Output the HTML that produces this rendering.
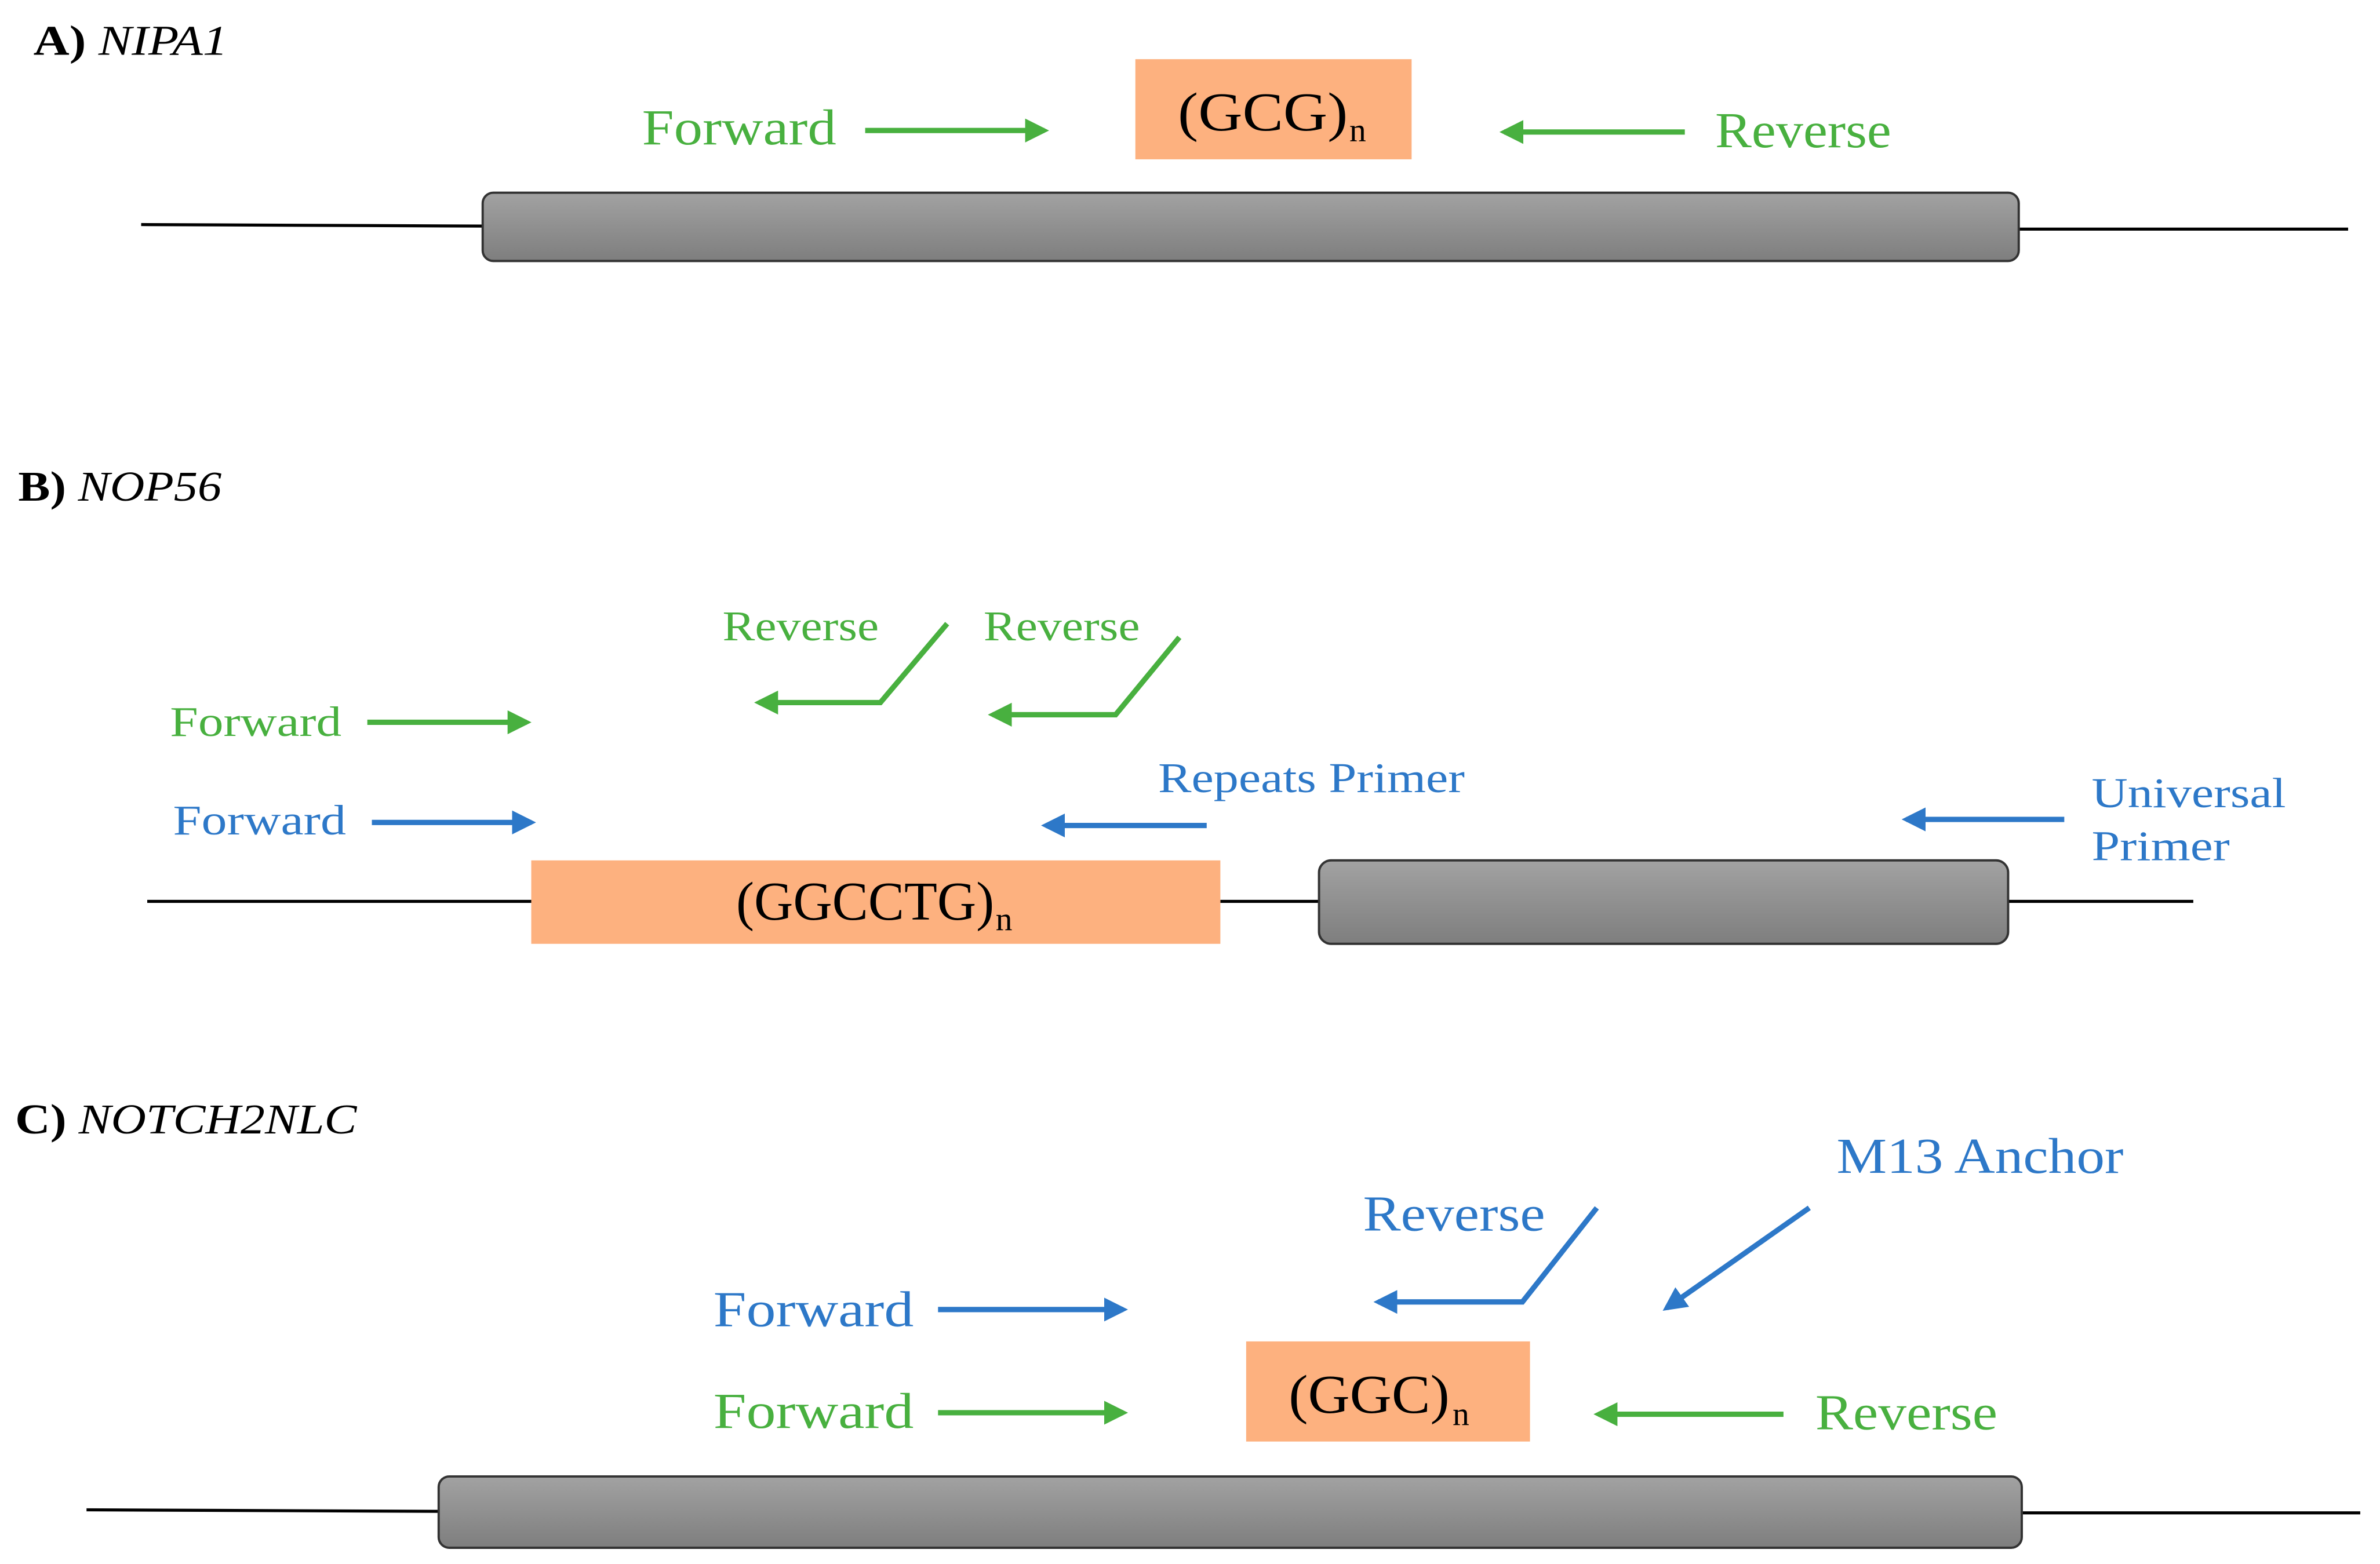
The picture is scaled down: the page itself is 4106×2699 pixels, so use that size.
<!DOCTYPE html>
<html><head><meta charset="utf-8"><style>html,body{margin:0;padding:0;background:#fff}svg{display:block}</style></head>
<body>
<svg width="4106" height="2699" viewBox="0 0 1568 1030.7" xmlns="http://www.w3.org/2000/svg" font-family="'Liberation Serif', serif">
<defs>
<linearGradient id="g" x1="0" y1="0" x2="0" y2="1"><stop offset="0" stop-color="#a2a2a2"/><stop offset="1" stop-color="#7e7e7e"/></linearGradient>
<marker id="ag" viewBox="0 0 10 10" refX="8" refY="5" markerWidth="4.5" markerHeight="4.5" orient="auto" markerUnits="strokeWidth"><path d="M0,0 L10,5 L0,10 z" fill="#48b03f"/></marker>
<marker id="ab" viewBox="0 0 10 10" refX="8" refY="5" markerWidth="4.5" markerHeight="4.5" orient="auto" markerUnits="strokeWidth"><path d="M0,0 L10,5 L0,10 z" fill="#2d78c8"/></marker>
</defs>
<g stroke="#000" stroke-width="2"><line x1="93" y1="148" x2="318" y2="149"/><line x1="1330" y1="151" x2="1547" y2="151"/>
<line x1="97" y1="594" x2="350" y2="594"/><line x1="804" y1="594" x2="869" y2="594"/><line x1="1323" y1="594" x2="1445" y2="594"/>
<line x1="57" y1="995" x2="289" y2="996"/><line x1="1332" y1="997" x2="1555" y2="997"/></g>
<g fill="url(#g)" stroke="#333" stroke-width="1.5">
<rect x="318" y="127" width="1012" height="45" rx="7"/>
<rect x="869" y="567" width="454" height="55" rx="8"/>
<rect x="289" y="973" width="1043" height="47" rx="7"/></g>
<g fill="#fdb17f"><rect x="748" y="39" width="182" height="66"/><rect x="350" y="567" width="454" height="55"/><rect x="821" y="884" width="187" height="66"/></g>
<g font-size="28" fill="#000">
<text x="22" y="36" textLength="128" lengthAdjust="spacingAndGlyphs"><tspan font-weight="bold">A)</tspan> <tspan font-style="italic">NIPA1</tspan></text>
<text x="12" y="330" textLength="134" lengthAdjust="spacingAndGlyphs"><tspan font-weight="bold">B)</tspan> <tspan font-style="italic">NOP56</tspan></text>
<text x="10" y="747" textLength="225" lengthAdjust="spacingAndGlyphs"><tspan font-weight="bold">C)</tspan> <tspan font-style="italic">NOTCH2NLC</tspan></text></g>
<g font-size="36" fill="#000">
<text x="776" y="86" textLength="112" lengthAdjust="spacingAndGlyphs">(GCG)</text><text x="889" y="93" font-size="22">n</text>
<text x="485" y="606" textLength="170" lengthAdjust="spacingAndGlyphs">(GGCCTG)</text><text x="656" y="613" font-size="22">n</text>
<text x="849" y="931" textLength="106" lengthAdjust="spacingAndGlyphs">(GGC)</text><text x="957" y="939" font-size="22">n</text></g>
<g fill="#48b03f" font-size="33">
<text x="423" y="95" textLength="128" lengthAdjust="spacingAndGlyphs">Forward</text>
<text x="1130" y="97" textLength="116" lengthAdjust="spacingAndGlyphs">Reverse</text>
<text x="470" y="941" textLength="132" lengthAdjust="spacingAndGlyphs">Forward</text>
<text x="1196" y="942" textLength="120" lengthAdjust="spacingAndGlyphs">Reverse</text></g>
<g fill="#48b03f" font-size="28">
<text x="476" y="422" textLength="103" lengthAdjust="spacingAndGlyphs">Reverse</text>
<text x="648" y="422" textLength="103" lengthAdjust="spacingAndGlyphs">Reverse</text>
<text x="112" y="485" textLength="113" lengthAdjust="spacingAndGlyphs">Forward</text></g>
<g fill="#2d78c8" font-size="28">
<text x="114" y="550" textLength="114" lengthAdjust="spacingAndGlyphs">Forward</text>
<text x="763" y="522" textLength="202" lengthAdjust="spacingAndGlyphs">Repeats Primer</text>
<text x="1378" y="532" textLength="128" lengthAdjust="spacingAndGlyphs">Universal</text>
<text x="1378" y="567" textLength="91" lengthAdjust="spacingAndGlyphs">Primer</text></g>
<g fill="#2d78c8" font-size="33">
<text x="1210" y="773" textLength="189" lengthAdjust="spacingAndGlyphs">M13 Anchor</text>
<text x="898" y="811" textLength="120" lengthAdjust="spacingAndGlyphs">Reverse</text>
<text x="470" y="874" textLength="132" lengthAdjust="spacingAndGlyphs">Forward</text></g>
<g stroke="#48b03f" stroke-width="3.5" fill="none" marker-end="url(#ag)">
<line x1="570" y1="86" x2="688" y2="86"/><line x1="1110" y1="87" x2="991" y2="87"/>
<line x1="242" y1="476" x2="347" y2="476"/>
<polyline points="624,411 580,463 500,463"/><polyline points="777,420 735,471 654,471"/>
<line x1="618" y1="931" x2="740" y2="931"/><line x1="1175" y1="932" x2="1053" y2="932"/></g>
<g stroke="#2d78c8" stroke-width="3.5" fill="none" marker-end="url(#ab)">
<line x1="245" y1="542" x2="350" y2="542"/><line x1="795" y1="544" x2="689" y2="544"/><line x1="1360" y1="540" x2="1256" y2="540"/>
<line x1="1192" y1="796" x2="1098" y2="862"/><polyline points="1052,796 1003,858 908,858"/>
<line x1="618" y1="863" x2="740" y2="863"/></g>
</svg>
</body></html>
